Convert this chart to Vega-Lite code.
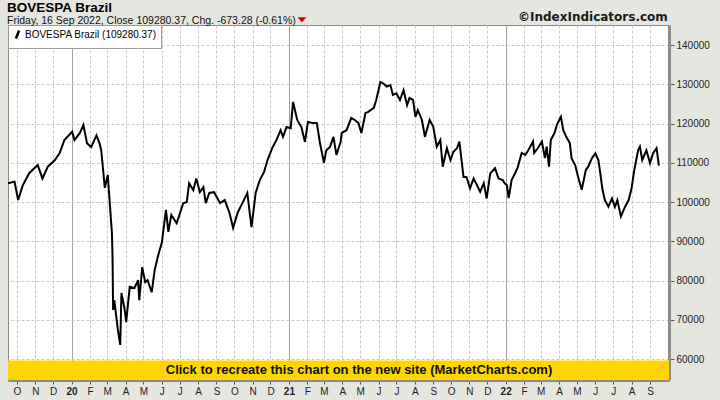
{
  "$schema": "https://vega.github.io/schema/vega-lite/v6.json",
  "width": 661,
  "height": 355,
  "autosize": "none",
  "padding": {"left": 8, "top": 25, "right": 51, "bottom": 20},
  "background": "#e6e6e0",
  "title": {
    "text": "BOVESPA Brazil",
    "subtitle": "Friday, 16 Sep 2022, Close 109280.37, Chg. -673.28 (-0.61%)",
    "anchor": "start",
    "frame": "group",
    "offset": -15.5,
    "dx": -1,
    "font": "Liberation Sans",
    "fontSize": 13.5,
    "fontWeight": "bold",
    "color": "#000000",
    "subtitleFont": "Liberation Sans",
    "subtitleFontSize": 10.5,
    "subtitleColor": "#111111",
    "subtitlePadding": 1
  },
  "config": {
    "view": {"stroke": "#888888", "strokeWidth": 1, "fill": "#ffffff"},
    "font": "Liberation Sans"
  },
  "layer": [
    {
      "data": {
        "values": [
          {"date": "2019-09-16", "close": 104800},
          {"date": "2019-09-27", "close": 105200},
          {"date": "2019-10-03", "close": 100500},
          {"date": "2019-10-11", "close": 104300},
          {"date": "2019-10-22", "close": 107400},
          {"date": "2019-11-05", "close": 109400},
          {"date": "2019-11-13", "close": 106000},
          {"date": "2019-11-22", "close": 109000},
          {"date": "2019-12-04", "close": 110700},
          {"date": "2019-12-12", "close": 112500},
          {"date": "2019-12-20", "close": 115800},
          {"date": "2020-01-02", "close": 117900},
          {"date": "2020-01-06", "close": 115800},
          {"date": "2020-01-15", "close": 117600},
          {"date": "2020-01-21", "close": 119600},
          {"date": "2020-01-27", "close": 115000},
          {"date": "2020-02-03", "close": 114000},
          {"date": "2020-02-12", "close": 117000},
          {"date": "2020-02-17", "close": 115000},
          {"date": "2020-02-20", "close": 113200},
          {"date": "2020-02-26", "close": 103600},
          {"date": "2020-03-02", "close": 106900},
          {"date": "2020-03-05", "close": 100500},
          {"date": "2020-03-09", "close": 92000},
          {"date": "2020-03-10", "close": 86000},
          {"date": "2020-03-11", "close": 72500},
          {"date": "2020-03-13", "close": 75000},
          {"date": "2020-03-19", "close": 67400},
          {"date": "2020-03-23", "close": 63600},
          {"date": "2020-03-25", "close": 76800},
          {"date": "2020-03-30", "close": 73000},
          {"date": "2020-04-02", "close": 69400},
          {"date": "2020-04-08", "close": 78400},
          {"date": "2020-04-16", "close": 78100},
          {"date": "2020-04-22", "close": 80100},
          {"date": "2020-04-24", "close": 75000},
          {"date": "2020-04-29", "close": 83400},
          {"date": "2020-05-04", "close": 79600},
          {"date": "2020-05-08", "close": 80100},
          {"date": "2020-05-15", "close": 77000},
          {"date": "2020-05-20", "close": 82700},
          {"date": "2020-05-26", "close": 86500},
          {"date": "2020-06-01", "close": 89600},
          {"date": "2020-06-08", "close": 98000},
          {"date": "2020-06-12", "close": 92400},
          {"date": "2020-06-17", "close": 96700},
          {"date": "2020-06-26", "close": 94600},
          {"date": "2020-07-07", "close": 99700},
          {"date": "2020-07-13", "close": 100000},
          {"date": "2020-07-17", "close": 104800},
          {"date": "2020-07-24", "close": 103000},
          {"date": "2020-07-29", "close": 106000},
          {"date": "2020-08-04", "close": 102500},
          {"date": "2020-08-10", "close": 103800},
          {"date": "2020-08-14", "close": 99700},
          {"date": "2020-08-20", "close": 102300},
          {"date": "2020-08-28", "close": 102500},
          {"date": "2020-09-07", "close": 99700},
          {"date": "2020-09-15", "close": 100500},
          {"date": "2020-09-23", "close": 97200},
          {"date": "2020-09-29", "close": 93400},
          {"date": "2020-10-07", "close": 97400},
          {"date": "2020-10-13", "close": 99200},
          {"date": "2020-10-23", "close": 102300},
          {"date": "2020-10-27", "close": 97200},
          {"date": "2020-10-30", "close": 93600},
          {"date": "2020-11-06", "close": 102300},
          {"date": "2020-11-13", "close": 105600},
          {"date": "2020-11-20", "close": 107600},
          {"date": "2020-11-26", "close": 110700},
          {"date": "2020-12-04", "close": 113800},
          {"date": "2020-12-11", "close": 115800},
          {"date": "2020-12-18", "close": 118300},
          {"date": "2020-12-22", "close": 116600},
          {"date": "2020-12-28", "close": 119100},
          {"date": "2021-01-04", "close": 118800},
          {"date": "2021-01-08", "close": 125500},
          {"date": "2021-01-15", "close": 120900},
          {"date": "2021-01-22", "close": 119100},
          {"date": "2021-01-28", "close": 115300},
          {"date": "2021-02-02", "close": 120400},
          {"date": "2021-02-11", "close": 120100},
          {"date": "2021-02-17", "close": 120100},
          {"date": "2021-02-22", "close": 115300},
          {"date": "2021-03-01", "close": 110000},
          {"date": "2021-03-05", "close": 113200},
          {"date": "2021-03-11", "close": 114000},
          {"date": "2021-03-17", "close": 116600},
          {"date": "2021-03-22", "close": 112000},
          {"date": "2021-03-29", "close": 115300},
          {"date": "2021-03-31", "close": 117600},
          {"date": "2021-04-08", "close": 118300},
          {"date": "2021-04-16", "close": 121400},
          {"date": "2021-04-22", "close": 120900},
          {"date": "2021-04-28", "close": 120100},
          {"date": "2021-05-03", "close": 117600},
          {"date": "2021-05-10", "close": 122700},
          {"date": "2021-05-14", "close": 122900},
          {"date": "2021-05-24", "close": 124000},
          {"date": "2021-05-28", "close": 126000},
          {"date": "2021-06-04", "close": 130600},
          {"date": "2021-06-09", "close": 130200},
          {"date": "2021-06-15", "close": 129400},
          {"date": "2021-06-21", "close": 129800},
          {"date": "2021-06-25", "close": 127300},
          {"date": "2021-07-01", "close": 127700},
          {"date": "2021-07-07", "close": 126000},
          {"date": "2021-07-13", "close": 128500},
          {"date": "2021-07-19", "close": 124700},
          {"date": "2021-07-23", "close": 126500},
          {"date": "2021-07-29", "close": 126000},
          {"date": "2021-08-02", "close": 121700},
          {"date": "2021-08-06", "close": 123400},
          {"date": "2021-08-13", "close": 120900},
          {"date": "2021-08-18", "close": 116600},
          {"date": "2021-08-26", "close": 120900},
          {"date": "2021-09-01", "close": 119200},
          {"date": "2021-09-07", "close": 114100},
          {"date": "2021-09-13", "close": 115800},
          {"date": "2021-09-17", "close": 109000},
          {"date": "2021-09-24", "close": 113700},
          {"date": "2021-09-30", "close": 110700},
          {"date": "2021-10-05", "close": 112800},
          {"date": "2021-10-11", "close": 113700},
          {"date": "2021-10-15", "close": 115400},
          {"date": "2021-10-22", "close": 106400},
          {"date": "2021-10-27", "close": 106400},
          {"date": "2021-11-02", "close": 103500},
          {"date": "2021-11-08", "close": 106000},
          {"date": "2021-11-12", "close": 104800},
          {"date": "2021-11-19", "close": 102600},
          {"date": "2021-11-25", "close": 104800},
          {"date": "2021-11-30", "close": 100900},
          {"date": "2021-12-06", "close": 107300},
          {"date": "2021-12-14", "close": 108600},
          {"date": "2021-12-20", "close": 106000},
          {"date": "2021-12-27", "close": 105600},
          {"date": "2021-12-30", "close": 104800},
          {"date": "2022-01-03", "close": 104300},
          {"date": "2022-01-06", "close": 101000},
          {"date": "2022-01-11", "close": 105600},
          {"date": "2022-01-17", "close": 107400},
          {"date": "2022-01-21", "close": 108700},
          {"date": "2022-01-28", "close": 112500},
          {"date": "2022-02-03", "close": 112000},
          {"date": "2022-02-08", "close": 113200},
          {"date": "2022-02-16", "close": 115400},
          {"date": "2022-02-18", "close": 112500},
          {"date": "2022-02-24", "close": 113700},
          {"date": "2022-03-03", "close": 115400},
          {"date": "2022-03-08", "close": 111200},
          {"date": "2022-03-11", "close": 114100},
          {"date": "2022-03-15", "close": 109000},
          {"date": "2022-03-18", "close": 115800},
          {"date": "2022-03-24", "close": 117500},
          {"date": "2022-03-29", "close": 120000},
          {"date": "2022-04-04", "close": 121700},
          {"date": "2022-04-08", "close": 118300},
          {"date": "2022-04-13", "close": 116600},
          {"date": "2022-04-19", "close": 115000},
          {"date": "2022-04-22", "close": 111100},
          {"date": "2022-04-28", "close": 109400},
          {"date": "2022-05-03", "close": 106400},
          {"date": "2022-05-09", "close": 103100},
          {"date": "2022-05-16", "close": 108200},
          {"date": "2022-05-20", "close": 109000},
          {"date": "2022-05-26", "close": 111100},
          {"date": "2022-06-01", "close": 112400},
          {"date": "2022-06-06", "close": 110700},
          {"date": "2022-06-09", "close": 107700},
          {"date": "2022-06-13", "close": 103100},
          {"date": "2022-06-17", "close": 100500},
          {"date": "2022-06-23", "close": 98800},
          {"date": "2022-06-29", "close": 100900},
          {"date": "2022-07-04", "close": 98800},
          {"date": "2022-07-08", "close": 100500},
          {"date": "2022-07-14", "close": 96300},
          {"date": "2022-07-21", "close": 98800},
          {"date": "2022-07-27", "close": 100500},
          {"date": "2022-08-01", "close": 103500},
          {"date": "2022-08-05", "close": 107700},
          {"date": "2022-08-12", "close": 113200},
          {"date": "2022-08-15", "close": 114100},
          {"date": "2022-08-19", "close": 110700},
          {"date": "2022-08-26", "close": 113200},
          {"date": "2022-09-01", "close": 109900},
          {"date": "2022-09-06", "close": 112400},
          {"date": "2022-09-12", "close": 113700},
          {"date": "2022-09-16", "close": 109280.37}
        ]
      },
      "mark": {"type": "line", "strokeWidth": 2, "clip": true},
      "encoding": {
        "x": {
          "field": "date",
          "type": "temporal",
          "scale": {
            "type": "utc",
            "domain": [
              {"year": 2019, "month": 9, "date": 16, "utc": true},
              {"year": 2022, "month": 10, "date": 3, "utc": true}
            ]
          },
          "axis": {
            "orient": "bottom",
            "title": null,
            "tickCount": 100,
            "values": [
              {"year": 2019, "month": 10, "date": 1, "utc": true},
              {"year": 2019, "month": 11, "date": 1, "utc": true},
              {"year": 2019, "month": 12, "date": 1, "utc": true},
              {"year": 2020, "month": 1, "date": 1, "utc": true},
              {"year": 2020, "month": 2, "date": 1, "utc": true},
              {"year": 2020, "month": 3, "date": 1, "utc": true},
              {"year": 2020, "month": 4, "date": 1, "utc": true},
              {"year": 2020, "month": 5, "date": 1, "utc": true},
              {"year": 2020, "month": 6, "date": 1, "utc": true},
              {"year": 2020, "month": 7, "date": 1, "utc": true},
              {"year": 2020, "month": 8, "date": 1, "utc": true},
              {"year": 2020, "month": 9, "date": 1, "utc": true},
              {"year": 2020, "month": 10, "date": 1, "utc": true},
              {"year": 2020, "month": 11, "date": 1, "utc": true},
              {"year": 2020, "month": 12, "date": 1, "utc": true},
              {"year": 2021, "month": 1, "date": 1, "utc": true},
              {"year": 2021, "month": 2, "date": 1, "utc": true},
              {"year": 2021, "month": 3, "date": 1, "utc": true},
              {"year": 2021, "month": 4, "date": 1, "utc": true},
              {"year": 2021, "month": 5, "date": 1, "utc": true},
              {"year": 2021, "month": 6, "date": 1, "utc": true},
              {"year": 2021, "month": 7, "date": 1, "utc": true},
              {"year": 2021, "month": 8, "date": 1, "utc": true},
              {"year": 2021, "month": 9, "date": 1, "utc": true},
              {"year": 2021, "month": 10, "date": 1, "utc": true},
              {"year": 2021, "month": 11, "date": 1, "utc": true},
              {"year": 2021, "month": 12, "date": 1, "utc": true},
              {"year": 2022, "month": 1, "date": 1, "utc": true},
              {"year": 2022, "month": 2, "date": 1, "utc": true},
              {"year": 2022, "month": 3, "date": 1, "utc": true},
              {"year": 2022, "month": 4, "date": 1, "utc": true},
              {"year": 2022, "month": 5, "date": 1, "utc": true},
              {"year": 2022, "month": 6, "date": 1, "utc": true},
              {"year": 2022, "month": 7, "date": 1, "utc": true},
              {"year": 2022, "month": 8, "date": 1, "utc": true},
              {"year": 2022, "month": 9, "date": 1, "utc": true}
            ],
            "labelExpr": "utcmonth(datum.value) == 0 ? utcFormat(datum.value, '%y') : substring(utcFormat(datum.value, '%b'), 0, 1)",
            "labelFont": "Liberation Sans",
            "labelFontSize": 10,
            "labelColor": "#222222",
            "labelFontWeight": {"condition": {"test": "utcmonth(datum.value) == 0", "value": "bold"}, "value": "normal"},
            "labelPadding": 2,
            "labelFlush": false,
            "labelOverlap": false,
            "labelAngle": 0,
            "tickSize": 4,
            "tickColor": "#555555",
            "domain": true,
            "domainColor": "#8c8c8c",
            "domainWidth": 3,
            "grid": true,
            "gridColor": {"condition": {"test": "utcmonth(datum.value) == 0", "value": "#a0a0a0"}, "value": "#c8c8c8"},
            "gridDash": {"condition": {"test": "utcmonth(datum.value) == 0", "value": []}, "value": [3, 2]},
            "gridWidth": 1
          }
        },
        "y": {
          "field": "close",
          "type": "quantitative",
          "scale": {"domain": [54650, 145100], "nice": false, "zero": false},
          "axis": {
            "orient": "right",
            "title": null,
            "tickCount": 100,
            "values": [60000, 70000, 80000, 90000, 100000, 110000, 120000, 130000, 140000],
            "format": "d",
            "labelFont": "Liberation Sans",
            "labelFontSize": 10,
            "labelColor": "#222222",
            "labelPadding": 2,
            "tickSize": 5,
            "tickColor": "#555555",
            "domain": true,
            "domainColor": "#8c8c8c",
            "domainWidth": 3,
            "grid": true,
            "gridColor": "#c8c8c8",
            "gridDash": [3, 2]
          }
        },
        "color": {
          "datum": "BOVESPA Brazil (109280.37)",
          "scale": {"range": ["#000000"]},
          "legend": {
            "title": null,
            "orient": "top-left",
            "offset": 0,
            "padding": 4,
            "strokeColor": "#999999",
            "fillColor": "#ffffff",
            "labelFont": "Liberation Sans",
            "labelFontSize": 10,
            "labelColor": "#000000",
            "symbolType": "M-0.4,1L0.4,-1",
            "symbolSize": 64,
            "symbolStrokeWidth": 2.5,
            "symbolStrokeColor": "#000000",
            "labelOffset": 2
          }
        }
      }
    },
    {
      "data": {"values": [{"label": "Click to recreate this chart on the new site (MarketCharts.com)"}]},
      "mark": {"type": "rect", "color": "#ffd500", "clip": true},
      "encoding": {
        "x": {"datum": {"year": 2019, "month": 9, "date": 16, "utc": true}, "type": "temporal"},
        "x2": {"datum": {"year": 2022, "month": 10, "date": 3, "utc": true}},
        "y": {"datum": 59650, "type": "quantitative"},
        "y2": {"datum": 54650}
      }
    },
    {
      "data": {"values": [{"label": "Click to recreate this chart on the new site (MarketCharts.com)"}]},
      "mark": {"type": "text", "font": "Liberation Sans", "fontSize": 13, "fontWeight": "bold", "color": "#111111", "align": "center", "baseline": "alphabetic"},
      "encoding": {
        "x": {"datum": {"year": 2021, "month": 4, "date": 29, "utc": true}, "type": "temporal"},
        "y": {"datum": 56100, "type": "quantitative"},
        "text": {"field": "label"}
      }
    },
    {
      "data": {"values": [{"label": "©IndexIndicators.com"}]},
      "mark": {"type": "text", "font": "DejaVu Sans", "fontSize": 12, "fontWeight": "bold", "color": "#1a1a1a", "align": "right", "baseline": "alphabetic", "clip": false},
      "encoding": {
        "x": {"datum": {"year": 2022, "month": 10, "date": 1, "utc": true}, "type": "temporal"},
        "y": {"datum": 146200, "type": "quantitative"},
        "text": {"field": "label"}
      }
    },
    {
      "data": {"values": [{"label": "down"}]},
      "mark": {"type": "point", "shape": "M-1,-0.55L1,-0.55L0,0.55Z", "filled": true, "color": "#d40000", "size": 81, "opacity": 1, "clip": false},
      "encoding": {
        "x": {"datum": {"year": 2021, "month": 1, "date": 23, "utc": true}, "type": "temporal"},
        "y": {"datum": 146450, "type": "quantitative"}
      }
    }
  ]
}
